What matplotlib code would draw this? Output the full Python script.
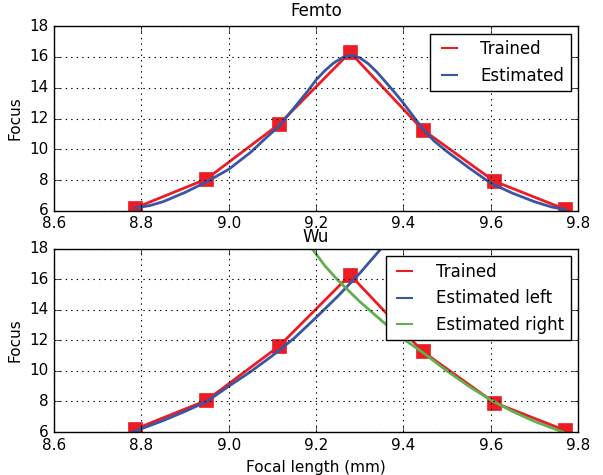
import matplotlib
matplotlib.use("Agg")
import matplotlib.pyplot as plt

# trained focus measurements
focal = [8.785, 8.949, 9.115, 9.278, 9.444, 9.608, 9.771]
focus_trained = [6.18, 8.07, 11.62, 16.30, 11.28, 7.93, 6.10]

# Femto estimated curve
femto_x = [8.785, 8.82, 8.85, 8.90, 8.95, 9.00, 9.05, 9.08, 9.115, 9.15, 9.18,
           9.20, 9.22, 9.24, 9.26, 9.28, 9.30, 9.32, 9.34, 9.36, 9.38, 9.40,
           9.42, 9.445, 9.47, 9.50, 9.55, 9.60, 9.65, 9.70, 9.74, 9.77]
femto_y = [6.18, 6.35, 6.60, 7.20, 7.90, 8.70, 9.80, 10.60, 11.50, 12.70, 13.75,
           14.50, 15.10, 15.60, 15.95, 16.10, 15.95, 15.55, 15.00, 14.35, 13.70, 13.00,
           12.25, 11.30, 10.55, 9.85, 8.80, 7.80, 7.15, 6.60, 6.25, 6.10]

# Wu estimated curves
wu_left_x = [8.78, 8.85, 8.90, 8.95, 9.00, 9.05, 9.10, 9.15, 9.20, 9.25, 9.30, 9.35]
wu_left_y = [6.00, 6.75, 7.35, 8.00, 9.00, 9.95, 11.00, 12.15, 13.50, 14.90, 16.40, 18.05]
wu_right_x = [9.19, 9.22, 9.25, 9.30, 9.35, 9.40, 9.445, 9.50, 9.55, 9.60, 9.65, 9.70, 9.765]
wu_right_y = [18.05, 16.90, 15.95, 14.55, 13.30, 12.10, 11.20, 10.00, 9.00, 8.10, 7.35, 6.70, 6.00]

x_ticks = [8.6, 8.8, 9.0, 9.2, 9.4, 9.6, 9.8]
y_ticks = [6, 8, 10, 12, 14, 16, 18]

RED = "#ec1c24"
BLUE = "#3a55a4"
GREEN = "#5fb04e"

plt.style.use("classic")
plt.rcParams.update({
    "figure.facecolor": "white",
    "savefig.facecolor": "white",
    "font.size": 11,
    "xtick.labelsize": 11,
    "ytick.labelsize": 11,
    "axes.labelsize": 11,
    "axes.titlesize": 12,
    "legend.fontsize": 12,
})

fig = plt.figure(figsize=(6.03, 4.75), dpi=100)
ax1 = fig.add_axes([0.0896, 0.556, 0.869, 0.389])
ax2 = fig.add_axes([0.0896, 0.0905, 0.869, 0.3855])

ax1.plot(focal, focus_trained, color=RED, lw=2, label="Trained")
ax1.plot(focal, focus_trained, ls="none", marker="s", ms=9.5, color=RED, mec=RED)
ax1.plot(femto_x, femto_y, color=BLUE, lw=2, label="Estimated")
ax1.set_title("Femto", pad=7)
leg1 = ax1.legend(loc="upper right", handlelength=1.5, handletextpad=1.1,
                  borderaxespad=0.45)

ax2.plot(focal, focus_trained, color=RED, lw=2, label="Trained")
ax2.plot(focal, focus_trained, ls="none", marker="s", ms=9.5, color=RED, mec=RED)
ax2.plot(wu_left_x, wu_left_y, color=BLUE, lw=2, label="Estimated left")
ax2.plot(wu_right_x, wu_right_y, color=GREEN, lw=2, label="Estimated right")
ax2.set_title("Wu", pad=5)
ax2.set_xlabel("Focal length (mm)")
leg2 = ax2.legend(loc="upper right", handlelength=1.5, handletextpad=1.1,
                  borderaxespad=0.45)

for leg in (leg1, leg2):
    for ln in leg.get_lines():
        ln.set_linewidth(1.5)

for ax in (ax1, ax2):
    ax.set_xlim(8.6, 9.8)
    ax.set_ylim(6, 18)
    ax.set_xticks(x_ticks)
    ax.set_yticks(y_ticks)
    ax.set_xticklabels([f"{t:.1f}" for t in x_ticks])
    ax.set_ylabel("Focus")
    ax.grid(True, ls=":", color="k", lw=0.8)

fig.savefig("out.png", dpi=100)
